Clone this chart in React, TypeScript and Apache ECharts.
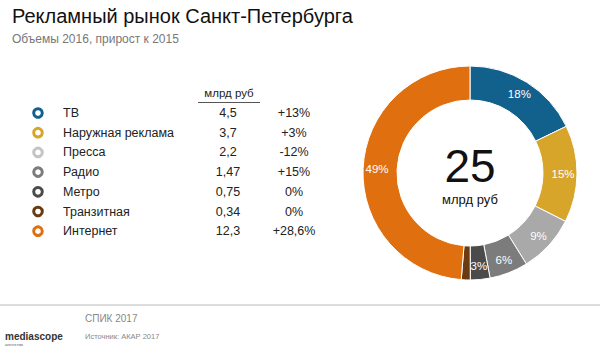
import React, { useEffect, useRef } from "react";
import * as echarts from "echarts";

const categories = ["ТВ", "Наружная реклама", "Пресса", "Радио", "Метро", "Транзитная", "Интернет"];
const volumes = [4.5, 3.7, 2.2, 1.47, 0.75, 0.34, 12.3];
const volumeLabels = ["4,5", "3,7", "2,2", "1,47", "0,75", "0,34", "12,3"];
const growthLabels = ["+13%", "+3%", "-12%", "+15%", "0%", "0%", "+28,6%"];
const colors = ["#12608C", "#D8A52B", "#A9A9A9", "#7C7C7C", "#4B4B4B", "#6A3A12", "#E0700F"];
const markerColors = ["#12608C", "#D8A52B", "#C4C4C4", "#7C7C7C", "#4B4B4B", "#6A3A12", "#E0700F"];
const totalLabel = "25";

const FONT = "Liberation Sans, Arial, sans-serif";

export default function App() {
  const ref = useRef<HTMLDivElement>(null);
  useEffect(() => {
    document.body.style.margin = "0";
    const chart = echarts.init(ref.current!, null, { renderer: "svg" });
    const rowY0 = 113;
    const rowStep = 19.7;
    const graphics: any[] = [
      { type: "text", left: 12, top: 6, style: { text: "Рекламный рынок Санкт-Петербурга", fontSize: 20, fill: "#111", fontFamily: FONT } },
      { type: "text", left: 12, top: 33, style: { text: "Объемы 2016, прирост к 2015", fontSize: 12, fill: "#777", fontFamily: FONT } },
      { type: "text", x: 229, y: 93, style: { text: "млрд руб", fontSize: 11.5, fill: "#222", fontFamily: FONT, align: "center", verticalAlign: "middle" } },
      { type: "line", shape: { x1: 198, y1: 102.5, x2: 260, y2: 102.5 }, style: { stroke: "#555", lineWidth: 1 } },
      { type: "text", left: "center", top: 0, style: { text: "", fontSize: 1 } },
      { type: "line", shape: { x1: 0, y1: 305, x2: 600, y2: 305 }, style: { stroke: "#BBBBBB", lineWidth: 1 } },
      { type: "text", x: 85, y: 318, style: { text: "СПИК 2017", fontSize: 10, fill: "#888", fontFamily: FONT, verticalAlign: "middle" } },
      { type: "text", x: 85, y: 336, style: { text: "Источник: АКАР 2017", fontSize: 7.5, fill: "#888", fontFamily: FONT, verticalAlign: "middle" } },
      { type: "text", x: 5, y: 336, style: { text: "mediascope", fontSize: 10, fontWeight: "bold", fill: "#333", fontFamily: FONT, verticalAlign: "middle" } },
      { type: "text", x: 5, y: 344, style: { text: "агентство", fontSize: 4, fill: "#555", fontFamily: FONT, verticalAlign: "middle" } },
    ];
    categories.forEach((c, i) => {
      const y = rowY0 + i * rowStep;
      graphics.push({ type: "circle", shape: { cx: 38, cy: y, r: 4.3 }, style: { fill: "#fff", stroke: markerColors[i], lineWidth: 3 } });
      graphics.push({ type: "text", x: 63, y, style: { text: c, fontSize: 12.5, fill: "#222", fontFamily: FONT, verticalAlign: "middle" } });
      graphics.push({ type: "text", x: 228, y, style: { text: volumeLabels[i], fontSize: 12.5, fill: "#222", fontFamily: FONT, verticalAlign: "middle", align: "center" } });
      graphics.push({ type: "text", x: 294, y, style: { text: growthLabels[i], fontSize: 12.5, fill: "#222", fontFamily: FONT, verticalAlign: "middle", align: "center" } });
    });
    graphics.push({ type: "text", x: 470, y: 166, style: { text: totalLabel, fontSize: 46, fill: "#111", fontFamily: FONT, align: "center", verticalAlign: "middle" } });
    graphics.push({ type: "text", x: 470, y: 199, style: { text: "млрд руб", fontSize: 13, fill: "#111", fontFamily: FONT, align: "center", verticalAlign: "middle" } });

    chart.setOption({
      animation: false,
      backgroundColor: "#fff",
      color: colors,
      graphic: graphics,
      series: [
        {
          type: "pie",
          center: [470, 173],
          radius: [73, 107],
          startAngle: 90,
          clockwise: true,
          avoidLabelOverlap: false,
          itemStyle: { borderColor: "#fff", borderWidth: 1 },
          label: {
            show: true,
            position: "inside",
            color: "#fff",
            fontSize: 11.5,
            fontFamily: FONT,
            formatter: (p: any) => (p.percent < 2 ? "" : Math.round(p.percent) + "%"),
          },
          labelLine: { show: false },
          emphasis: { disabled: true },
          data: categories.map((c, i) => ({ name: c, value: volumes[i] })),
        },
      ],
    });
    return () => chart.dispose();
  }, []);
  return <div ref={ref} style={{ width: 600, height: 351, position: "absolute", left: 0, top: 0 }} />;
}
